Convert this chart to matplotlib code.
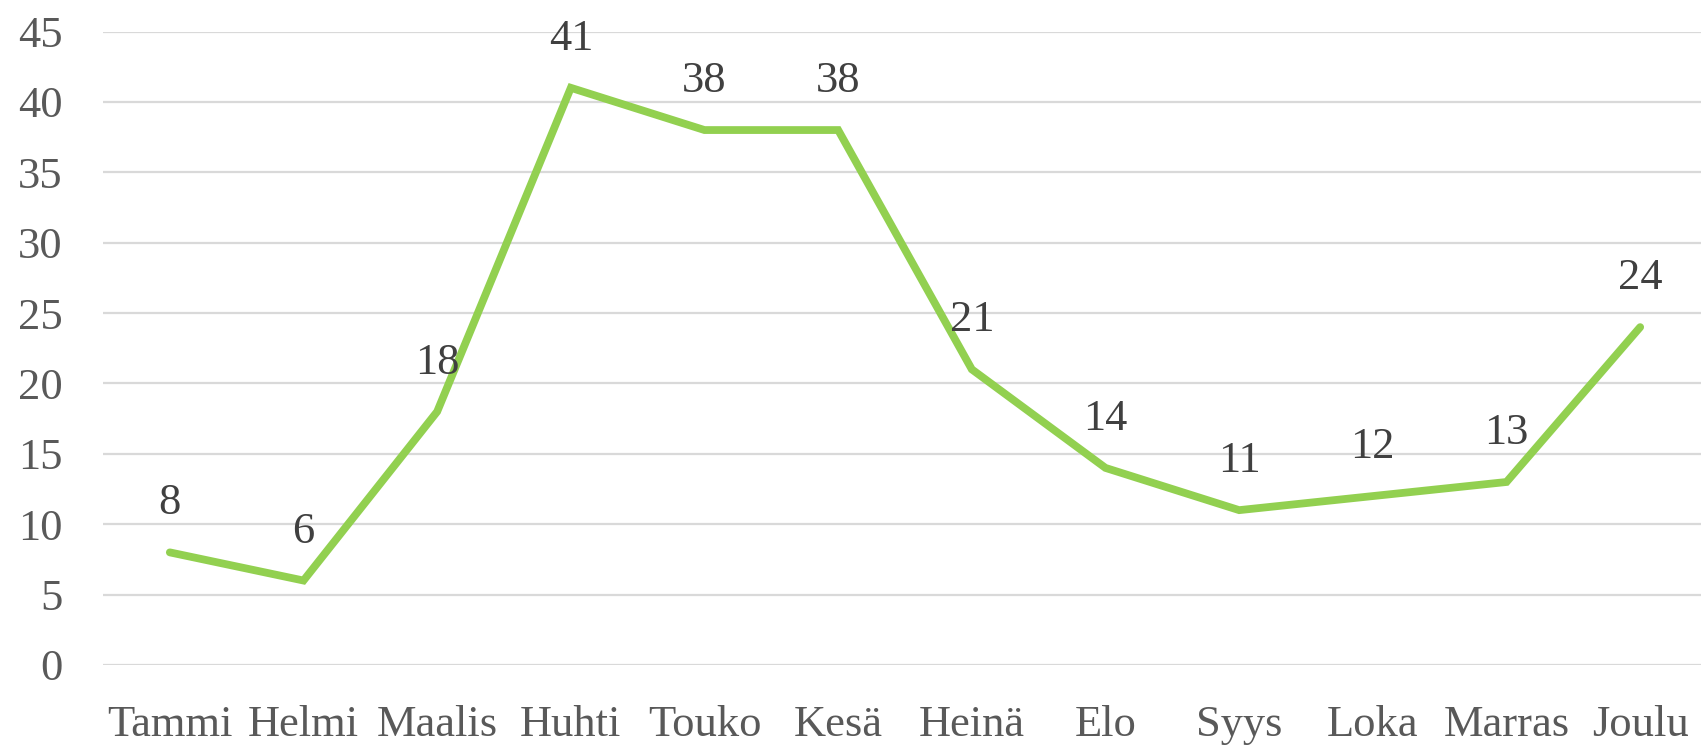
import matplotlib
matplotlib.use("Agg")
import matplotlib.pyplot as plt

months = ["Tammi", "Helmi", "Maalis", "Huhti", "Touko", "Kesä", "Heinä",
          "Elo", "Syys", "Loka", "Marras", "Joulu"]
values = [8, 6, 18, 41, 38, 38, 21, 14, 11, 12, 13, 24]
yticks = [0, 5, 10, 15, 20, 25, 30, 35, 40, 45]

plt.rcParams['font.family'] = ['Liberation Serif', 'DejaVu Serif']

W, H = 1701, 749
fig = plt.figure(figsize=(W / 100, H / 100), dpi=100)
left = 103 / W
right = 1707 / W
bottom = (H - 665) / H
top = 1 - 31.5 / H
ax = fig.add_axes([left, bottom, right - left, top - bottom])

x = list(range(len(months)))
ax.plot(x, values, color="#92D050", linewidth=5.6, solid_capstyle="round",
        solid_joinstyle="miter", zorder=3)

for xi, v in zip(x, values):
    ax.annotate(str(v), (xi, v), xytext=(0, 38), textcoords="offset pixels",
                ha="center", va="baseline", fontsize=32, color="#404040",
                zorder=4, annotation_clip=False)

ax.set_xlim(-0.5, len(months) - 0.5)
ax.set_ylim(0, 45)
ax.set_yticks(yticks)
ax.set_xticks(x)
ax.set_xticklabels(months)
ax.grid(axis="y", color="#D9D9D9", linewidth=1.6, zorder=0)
ax.set_axisbelow(True)
for s in ax.spines.values():
    s.set_visible(False)
ax.tick_params(axis="both", length=0, labelsize=32, colors="#595959")
ax.tick_params(axis="y", pad=29)
ax.tick_params(axis="x", pad=29)

fig.savefig("out.png", dpi=100)
